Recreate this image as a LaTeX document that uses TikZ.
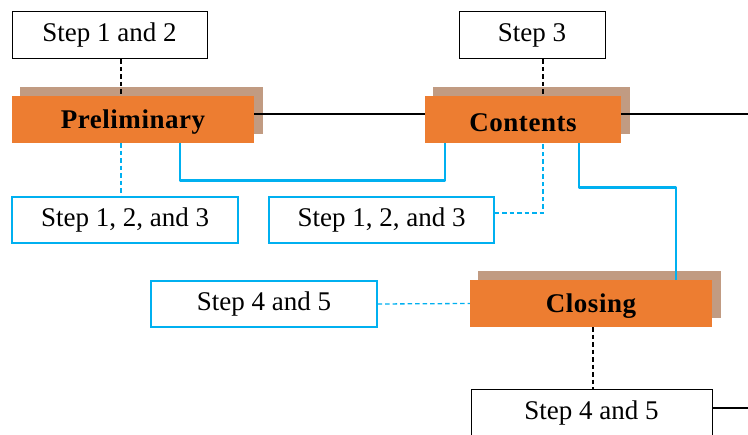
\documentclass[tikz,border=0pt]{standalone}
\usepackage{fontspec}
\setmainfont{Liberation Serif}
\newfontfamily\stagefont[LetterSpace=2]{Liberation Serif}
\usetikzlibrary{calc}
\definecolor{stageorange}{HTML}{ED7D31}
\definecolor{stageshadow}{HTML}{C19B82}
\definecolor{linkblue}{HTML}{00B0F0}
\begin{document}
\begin{tikzpicture}[x=1pt,y=-1pt,
  stagebox/.style={rectangle,fill=stageorange,minimum height=47pt,inner sep=0pt},
  stagelabel/.style={inner sep=0pt,font=\stagefont\bfseries\fontsize{27}{30}\selectfont},
  shadowbox/.style={rectangle,fill=stageshadow,minimum height=47pt,inner sep=0pt},
  notebox/.style={rectangle,draw=black,line width=1pt,fill=white,minimum height=47pt,inner sep=0pt,
    font=\fontsize{27}{30}\selectfont},
  bluebox/.style={notebox,draw=linkblue,line width=1.4pt,minimum height=46pt},
  solidlink/.style={line width=2.2pt,black},
  bluelink/.style={line width=2.8pt,linkblue,line join=round},
  blackdash/.style={line width=1.2pt,black,dash pattern=on 4.5pt off 3pt},
  bluedash/.style={line width=1.3pt,linkblue,dash pattern=on 4.5pt off 3pt}]
\clip (0,0) rectangle (748,435);
\fill[white] (0,0) rectangle (748,435);

% stage shadows
\node[shadowbox,minimum width=243pt] (prelimsh) at (141.5,110.5) {};
\node[shadowbox,minimum width=197pt] (contentssh) at (531.5,110.5) {};
\node[shadowbox,minimum width=243pt] (closingsh) at (599.5,294.5) {};

% step notes
\node[notebox,minimum width=195pt] (s12) at (109.5,35.5) {Step 1 and 2};
\node[notebox,minimum width=146pt] (s3) at (532,35.5) {Step 3};
\node[bluebox,minimum width=226pt] (s123a) at (125,220) {Step 1, 2, and 3};
\node[bluebox,minimum width=225pt] (s123b) at (381.5,220) {Step 1, 2, and 3};
\node[bluebox,minimum width=226pt] (s45a) at (264,304) {Step 4 and 5};
\node[notebox,minimum width=241pt] (s45b) at (591.5,413.5) {Step 4 and 5};

% stage frames, used by the connectors
\path (133,119.5) coordinate (prelimc) (523,119.5) coordinate (contentsc) (591,303.5) coordinate (closingc);
\coordinate (rightA) at (748,114);
\coordinate (rightB) at (748,408);
\node[stagebox,minimum width=242pt,fill=none] (prelim) at (prelimc) {};
\node[stagebox,minimum width=196pt,fill=none] (contents) at (contentsc) {};
\node[stagebox,minimum width=242pt,fill=none] (closing) at (closingc) {};

% connectors
\coordinate (pa) at ([xshift=-12pt]prelim.north);
\coordinate (ca) at ([xshift=20pt]contents.north);
\draw[blackdash] (s12.south -| pa) -- (pa);
\draw[blackdash] (s3.south -| ca) -- (ca);
\draw[solidlink] ([yshift=5.5pt]prelim.east) -- ([yshift=5.5pt]contents.west);
\draw[solidlink] ([yshift=5.5pt]contents.east) -- (rightA);
\draw[bluedash] (pa |- prelim.south) -- (pa |- s123a.north);
\draw[bluelink] ([xshift=47pt]prelim.south) -- ++(0,37) -| ([xshift=-78pt]contents.south);
\draw[bluedash] ([yshift=7pt]s123b.east) -| (ca |- contents.south);
\draw[bluelink] ([xshift=56pt]contents.south) -- ++(0,44) -| ([xshift=85pt]closing.north);
\draw[bluedash] (s45a.east) -- (closing.west);
\draw[blackdash] ([xshift=2pt]closing.south) -- ([xshift=2pt]closing.south |- s45b.north);
\draw[solidlink] ([yshift=5.5pt]s45b.east) -- (rightB);

% stage boxes on top, labels set a little below centre
\node[stagebox,minimum width=242pt] (prelimfill) at (prelimc) {};
\node[stagebox,minimum width=196pt] (contentsfill) at (contentsc) {};
\node[stagebox,minimum width=242pt] (closingfill) at (closingc) {};
\node[stagelabel] (prelimtext) at ([yshift=-3pt]prelimfill.center) {Preliminary};
\node[stagelabel] (contentstext) at ([yshift=-3pt]contentsfill.center) {Contents};
\node[stagelabel] (closingtext) at ([yshift=-3pt]closingfill.center) {Closing};
\end{tikzpicture}
\end{document}
